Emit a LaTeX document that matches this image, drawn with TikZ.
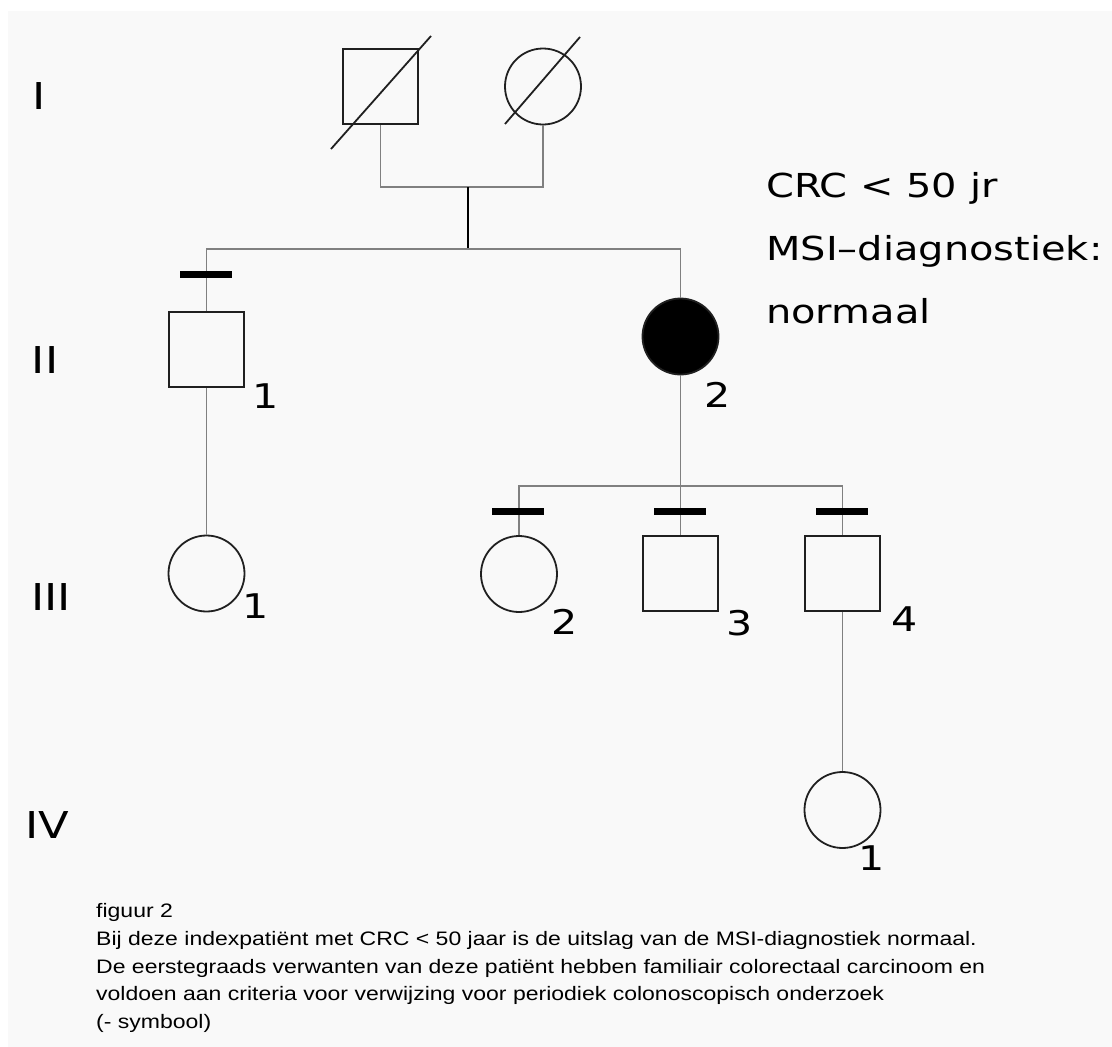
\documentclass[tikz,border=0pt]{standalone}
\usepackage{fontspec}
\setmainfont{Liberation Sans}
\newfontfamily\pedfont[FakeStretch=1.21]{DejaVu Sans}
\newfontfamily\capfont[FakeStretch=1.18]{Liberation Sans}
\definecolor{bggray}{HTML}{F9F9F9}
\definecolor{linegray}{HTML}{808080}
\definecolor{shapeline}{HTML}{202020}
\begin{document}
\begin{tikzpicture}[x=1pt,y=-1pt,
  conn/.style={draw=linegray,line width=1.6pt},
  male/.style={draw=shapeline,line width=2pt,rectangle,minimum size=75pt,inner sep=0pt},
  female/.style={draw=shapeline,line width=1.8pt,circle,minimum size=76pt,inner sep=0pt},
  affected/.style={fill=black},
  bar/.style={line width=7pt,black},
  slash/.style={draw=shapeline,line width=1.8pt},
  idlabel/.style={font=\pedfont\fontsize{34}{34}\selectfont,inner sep=0pt},
  genlabel/.style={font=\pedfont\fontsize{37}{37}\selectfont,inner sep=0pt},
  note/.style={font=\pedfont\fontsize{33}{33}\selectfont,inner sep=0pt,anchor=base west},
  caption/.style={font=\capfont\fontsize{19.5}{19.5}\selectfont,inner sep=0pt,anchor=base west}]
% background
\fill[white] (0,0) rectangle (1112,1047);
\fill[bggray] (8,11) rectangle (1112,1047);
\useasboundingbox (0,0) rectangle (1112,1047);

% generation labels
\node[genlabel] (gI) at (39.5,96.5) {I};
\node[genlabel] (gII) at (45,360) {II};
\node[genlabel] (gIII) at (51,597) {III};
\node[genlabel] (gIV) at (47,825) {IV};

% generation I
\node[male] (I1) at (380.5,86.5) {};
\node[female] (I2) at (543,86.5) {};
\coordinate (I1sa) at (331,149);
\coordinate (I1sb) at (431,36);
\coordinate (I2sa) at (505,124);
\coordinate (I2sb) at (580,37);
\draw[slash] (I1sa) -- (I1sb);
\draw[slash] (I2sa) -- (I2sb);
\coordinate (mI) at (468,187);
\draw[conn] (I1.south) |- (mI) -| (I2.south);
\draw[conn] (I1.south |- mI) -- (I2.south |- mI);

% generation II
\node[male] (II1) at (206.5,349.5) {};
\node[female,affected] (II2) at (680.5,336.5) {};
\coordinate (sII) at (468,249);
\coordinate (sIIL) at (206.5,249);
\coordinate (sIIR) at (680.5,249);
\draw[conn,draw=black,line width=1.8pt] (mI) -- (sII);
\draw[conn] (II1.north) -- (sIIL) -- (sIIR) -- (II2.north);
\coordinate (bIIa) at (180,274);
\coordinate (bIIb) at (232,274);
\draw[bar] (bIIa) -- (bIIb);
\node[idlabel] (lII1) at (266,396) {1};
\node[idlabel] (lII2) at (718,395) {2};

% generation III
\node[female] (III1) at (206.5,573.5) {};
\node[female] (III2) at (519,574) {};
\node[male] (III3) at (680.5,573.5) {};
\node[male] (III4) at (842.5,573.5) {};
\draw[conn] (II1.south) -- (III1.north);
\coordinate (sIII) at (680.5,486);
\coordinate (sIIIL) at (519,486);
\coordinate (sIIIR) at (842.5,486);
\draw[conn] (II2.south) -- (sIII);
\draw[conn] (III2.north) -- (sIIIL) -- (sIIIR) -- (III4.north);
\draw[conn] (sIII) -- (III3.north);
\coordinate (b2a) at (492,511); \coordinate (b2b) at (544,511);
\coordinate (b3a) at (654,511); \coordinate (b3b) at (706,511);
\coordinate (b4a) at (816,511); \coordinate (b4b) at (868,511);
\draw[bar] (b2a) -- (b2b);
\draw[bar] (b3a) -- (b3b);
\draw[bar] (b4a) -- (b4b);
\node[idlabel] (lIII1) at (256,606) {1};
\node[idlabel] (lIII2) at (565,622) {2};
\node[idlabel] (lIII3) at (740,623) {3};
\node[idlabel] (lIII4) at (905,619) {4};

% generation IV
\node[female] (IV1) at (842.5,810) {};
\draw[conn] (III4.south) -- (IV1.north);
\node[idlabel] (lIV1) at (872,858) {1};

% note
\node[note] (n1) at (766,197) {CRC < 50 jr};
\node[note] (n2) at (766,260) {MSI–diagnostiek:};
\node[note] (n3) at (766,323) {normaal};

% caption
\node[caption] (c1) at (96,917) {figuur 2};
\node[caption] (c2) at (96,945) {Bij deze indexpatiënt met CRC < 50 jaar is de uitslag van de MSI-diagnostiek normaal.};
\node[caption] (c3) at (96,973) {De eerstegraads verwanten van deze patiënt hebben familiair colorectaal carcinoom en};
\node[caption] (c4) at (96,1000) {voldoen aan criteria voor verwijzing voor periodiek colonoscopisch onderzoek};
\node[caption] (c5) at (96,1028) {(- symbool)};
\end{tikzpicture}
\end{document}
